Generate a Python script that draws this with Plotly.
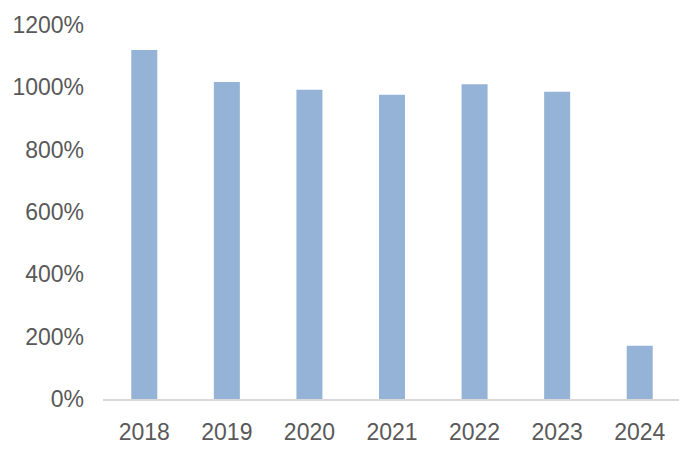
import plotly.graph_objects as go

years = ["2018", "2019", "2020", "2021", "2022", "2023", "2024"]
values = [1120, 1017, 992, 976, 1010, 986, 171]
y_ticks = [0, 200, 400, 600, 800, 1000, 1200]
y_tick_labels = [f"{v}%" for v in y_ticks]

fig = go.Figure(go.Bar(x=years, y=values, marker=dict(color="#95b3d7", line=dict(width=0))))

fig.update_layout(
    width=687, height=453,
    margin=dict(l=95, r=14, t=17, b=62),
    plot_bgcolor="white", paper_bgcolor="white",
    bargap=0.685,
    showlegend=False,
    font=dict(family="Liberation Sans", size=23, color="#595959"),
)
fig.update_xaxes(
    showline=True, linecolor="#d9d9d9", linewidth=2,
    showgrid=False, ticks="", ticklabelstandoff=11, automargin=False,
    tickfont=dict(size=23, color="#595959"),
)
fig.update_yaxes(
    range=[0, 1200], tickvals=y_ticks, ticktext=y_tick_labels,
    showgrid=False, showline=False, zeroline=False, ticks="",
    ticklabelstandoff=18, automargin=False,
    tickfont=dict(size=23, color="#595959"),
)
fig.write_html("out.html")
